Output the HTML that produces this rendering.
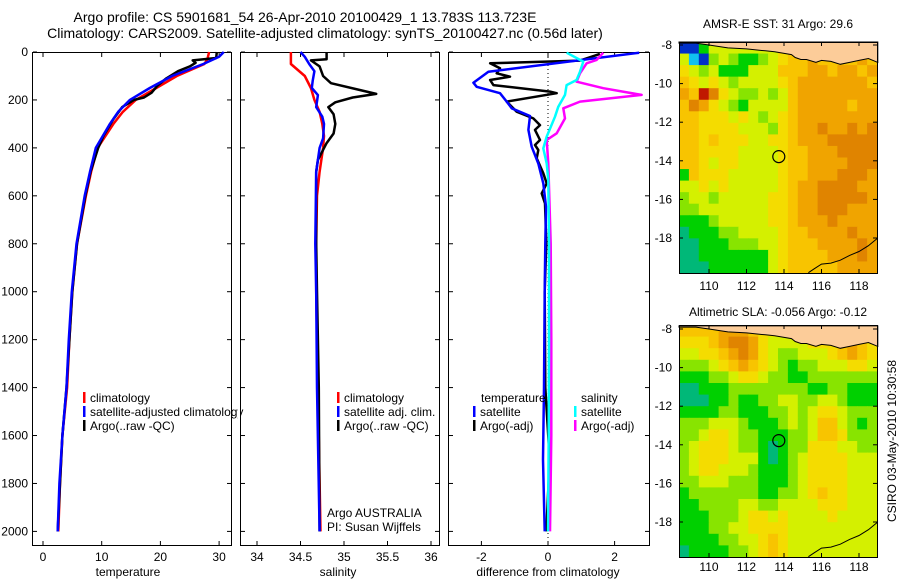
<!DOCTYPE html>
<html><head><meta charset="utf-8"><style>
body{margin:0;background:#fff;}
svg{display:block;font-family:"Liberation Sans",sans-serif;}
</style></head><body>
<svg id="fig" width="900" height="580" viewBox="0 0 900 580">
<text x="305" y="22" font-size="14" text-anchor="middle">Argo profile: CS 5901681_54 26-Apr-2010 20100429_1 13.783S 113.723E</text>
<text x="325" y="38" font-size="14" text-anchor="middle">Climatology: CARS2009. Satellite-adjusted climatology: synTS_20100427.nc (0.56d later)</text>
<text x="778" y="28" font-size="12" text-anchor="middle">AMSR-E SST: 31 Argo: 29.6</text>
<text x="778" y="316" font-size="12" text-anchor="middle">Altimetric SLA: -0.056 Argo: -0.12</text>
<text transform="translate(896,441) rotate(-90)" font-size="12" text-anchor="middle">CSIRO 03-May-2010 10:30:58</text>
<g id="content"></g>
</svg>
<script>
// ---------- profile data ----------
const tempClimDepth=[0,30,50,100,150,200,250,300,400,500,600,800,1000,1200,1400,1600,1800,2000];
const tempClimVal=[28.3,28.0,27.5,22.8,19.3,15.8,13.6,12.0,9.3,8.2,7.3,5.8,5.0,4.5,4.1,3.3,2.9,2.6];
const tempSatDepth=[0,20,50,100,150,200,250,300,400,500,600,800,1000,1200,1400,1600,1800,2000];
const tempSatVal=[30.8,30.0,27.3,22.0,18.2,14.8,12.8,11.4,9.0,8.0,7.1,5.7,4.9,4.4,4.0,3.3,2.8,2.5];
const tempArgoDepth=[0,25,35,45,60,80,110,140,170,190,200,230,280,350,400,500,600,800,1000,1200,1400,1600,1800,2000];
const tempArgoVal=[29.6,29.5,25.5,26.0,25.0,23.0,21.0,19.5,18.5,17.2,15.5,13.5,12.0,10.3,9.4,8.1,7.2,5.8,5.0,4.5,4.0,3.3,2.9,2.5];
const salClimDepth=[0,50,100,150,200,250,300,350,400,500,600,800,1000,1400,2000];
const salClimVal=[34.39,34.39,34.55,34.62,34.66,34.72,34.75,34.77,34.76,34.72,34.69,34.68,34.68,34.70,34.73];
const salSatDepth=[0,20,50,80,120,150,180,230,270,300,360,400,500,800,1000,1400,2000];
const salSatVal=[34.5,34.55,34.6,34.66,34.64,34.63,34.7,34.68,34.75,34.77,34.76,34.72,34.68,34.67,34.68,34.69,34.72];
const salArgoDepth=[0,30,35,60,100,130,160,175,190,210,230,260,300,340,380,450,500,800,1000,1400,2000];
const salArgoVal=[34.8,34.8,34.62,34.72,34.76,34.85,35.2,35.37,35.1,34.9,34.82,34.88,34.9,34.88,34.8,34.7,34.68,34.68,34.69,34.71,34.72];
const dTempSatDepth=[3,82,128,145,172,207,235,267,325,395,465,548,645,800,1000,1400,1700,2000];
const dTempSatVal=[2.74,-1.79,-2.24,-2.14,-1.44,-1.24,-1.09,-0.54,-0.59,-0.49,-0.29,-0.14,-0.06,-0.08,-0.1,-0.12,-0.15,-0.1];
const dTempArgoDepth=[8,36,47,68,89,103,117,138,165,172,207,249,277,305,325,367,388,409,443,506,548,590,631,800,1000,1400,1700,2000];
const dTempArgoVal=[1.56,0.96,-1.74,-1.44,-1.54,-1.14,-1.74,-1.64,0.06,0.26,-1.24,-0.94,-0.44,-0.24,-0.39,-0.24,-0.39,-0.29,-0.34,-0.14,-0.04,-0.19,-0.09,-0.05,-0.1,-0.08,0.05,-0.05];
const dSalSatDepth=[3,40,82,117,138,179,228,270,353,402,465,534,800,1200,1600,2000];
const dSalSatVal=[0.56,1.06,0.96,0.86,0.56,0.51,0.31,0.21,-0.04,-0.14,-0.04,0.01,0.03,0.03,0.02,0.0];
const dSalArgoDepth=[3,33,47,89,124,151,179,207,235,277,339,367,465,800,1200,1600,2000];
const dSalArgoVal=[1.66,1.46,1.16,0.96,0.86,1.66,2.81,0.96,0.46,0.51,0.26,-0.04,0.01,0.08,0.1,0.1,0.06];
const depthTicks=[0,200,400,600,800,1000,1200,1400,1600,1800,2000];
const tempTicks=[0,10,20,30];
const salTicks=[34,34.5,35,35.5,36];
const diffTicks=[-2,0,2];
// ---------- map data (colour class per cell, rows north->south) ----------
const sstGrid=[
[0,0,3,5,5,5,5,5,5,5,7,7,7,7,7,7,7,7,7,7],
[5,1,0,4,5,4,3,3,4,5,6,7,7,8,7,7,7,7,8,7],
[6,5,4,5,3,3,3,5,5,5,7,7,7,8,8,7,8,8,7,8],
[7,6,5,6,5,4,5,5,5,5,6,7,8,8,8,8,8,8,8,7],
[8,7,10,9,6,5,4,4,5,4,5,7,8,8,8,8,8,8,8,8],
[7,9,8,6,5,4,3,5,5,5,5,7,8,8,8,8,8,7,8,8],
[7,7,6,6,6,5,6,5,4,5,6,7,8,8,8,8,8,8,8,8],
[7,7,6,6,6,6,5,5,5,4,6,7,8,8,9,8,8,9,8,9],
[7,7,6,7,6,6,6,5,5,6,6,7,8,8,8,9,9,9,9,9],
[7,7,6,6,6,6,5,5,5,5,6,7,7,8,8,8,9,9,9,9],
[7,7,6,5,6,6,5,5,5,5,6,7,7,8,8,8,8,9,9,9],
[3,7,6,6,6,5,5,5,5,5,6,7,7,8,8,8,9,9,9,8],
[5,5,6,5,6,5,5,5,5,5,6,7,8,8,9,9,9,9,8,8],
[4,5,5,4,5,5,5,5,5,6,6,7,8,8,9,9,9,9,9,8],
[4,4,5,5,5,5,5,5,5,6,6,7,8,8,9,9,9,8,8,8],
[3,3,3,4,5,5,5,5,5,6,6,7,8,8,8,9,8,8,8,8],
[2,3,3,3,4,4,5,5,5,5,6,7,7,8,8,8,8,9,8,8],
[2,2,3,3,3,4,4,4,5,5,6,7,7,7,8,8,8,8,9,8],
[2,2,3,3,3,3,3,3,3,5,6,7,7,7,7,8,8,8,9,8],
[2,2,2,3,3,3,3,3,3,5,6,7,7,7,7,7,8,8,8,8]];
const slaGrid=[
[7,7,7,7,8,8,8,7,6,6,6,6,6,6,6,6,6,6,6,6],
[6,6,6,7,8,9,9,8,6,5,5,5,5,6,6,6,7,8,7,6],
[5,5,6,6,7,8,9,8,6,5,4,4,5,5,5,6,7,8,7,6],
[4,4,4,5,6,7,8,7,6,5,4,3,4,4,5,5,5,6,6,5],
[3,3,3,4,4,5,6,6,5,4,4,3,3,4,4,4,4,4,4,4],
[2,2,3,3,3,4,4,4,4,4,4,4,4,3,3,4,4,3,3,3],
[2,2,2,3,3,4,3,3,4,4,5,5,4,4,5,5,4,3,3,3],
[3,3,3,3,4,4,3,3,3,4,4,5,4,5,6,6,5,4,4,4],
[4,4,4,5,5,5,4,3,3,3,4,5,4,5,7,7,5,4,3,4],
[4,4,5,6,6,5,4,4,3,3,3,4,4,5,7,7,6,4,4,4],
[4,5,6,6,6,5,4,4,3,2,3,4,4,6,6,6,5,5,4,4],
[4,5,6,6,6,5,5,5,3,2,3,4,5,6,6,6,6,5,5,5],
[4,5,6,6,5,5,5,4,3,3,3,4,5,6,6,6,6,5,5,5],
[4,4,5,5,5,4,4,4,3,3,3,4,5,6,6,6,6,5,5,5],
[3,4,4,4,4,4,4,4,3,3,4,4,5,6,7,6,6,5,5,5],
[3,3,4,4,4,4,5,5,4,4,5,5,5,5,6,6,6,5,5,5],
[3,3,3,4,4,4,5,6,6,5,6,5,5,5,5,6,5,5,5,5],
[3,3,3,4,4,5,5,6,6,6,6,5,5,5,5,5,5,5,5,5],
[3,3,3,3,4,4,5,5,6,7,6,5,5,5,5,5,5,5,5,5],
[2,3,3,3,3,4,4,5,6,7,6,5,5,5,5,5,5,5,5,5]];
const lonTicks=[110,112,114,116,118];
const latTicks=[-8,-10,-12,-14,-16,-18];
const argoLon=113.723, argoLat=-13.783;
const landLon=[108.4,119,119,118.5,118,117.5,117,116.5,116,115.7,115.2,114.9,114.6,114.4,113.5,113,112,111,110,109.3,108.4];
const landLat=[-7.84,-7.84,-8.9,-8.7,-8.8,-8.9,-9.0,-8.85,-8.8,-8.9,-8.75,-8.75,-8.65,-8.5,-8.35,-8.3,-8.2,-8.15,-8.0,-7.9,-7.9];
const ausLon=[115.3,115.6,116,116.5,117,117.5,118,118.5,119];
const ausLat=[-19.8,-19.6,-19.35,-19.3,-19.15,-18.9,-18.7,-18.4,-18.0];
const palette=["#0030c8","#10c0f0","#00b878","#00d000","#88e400","#d4f000","#f4dc00","#f8c400","#f0a400","#e08400","#c01800"];

const NS="http://www.w3.org/2000/svg";
const root=document.getElementById('content');
function mk(tag,attrs,parent){const e=document.createElementNS(NS,tag);for(const k in attrs)e.setAttribute(k,attrs[k]);(parent||root).appendChild(e);return e;}
const y0=52, ky=0.2397;
function yD(d){return y0+d*ky;}

function panel(name,left,right,xf,ticks,label,lx){
  const g=mk('g',{});
  
  
  const r=mk('rect',{x:left+0.5,y:52.5,width:right-left,height:493,fill:'none',stroke:'#000','stroke-width':1},g);
  
  
  ticks.forEach(t=>{const x=xf(t);
    mk('line',{x1:x,x2:x,y1:545,y2:541,stroke:'#000'},g);
    mk('line',{x1:x,x2:x,y1:53,y2:57,stroke:'#000'},g);
    const tx=mk('text',{x:x,y:561,'font-size':12,'text-anchor':'middle'},g);tx.textContent=t;
    
    });
  depthTicks.forEach(d=>{const y=yD(d);
    mk('line',{x1:left+1,x2:left+5,y1:y,y2:y,stroke:'#000'},g);
    mk('line',{x1:right,x2:right-4,y1:y,y2:y,stroke:'#000'},g);});
  const lb=mk('text',{x:lx,y:576,'font-size':12,'text-anchor':'middle'},g);lb.textContent=label;
  
  
  return g;
}
function line(g,dep,val,xf,color,w,name){
  const p=dep.map((d,i)=>xf(val[i]).toFixed(1)+','+yD(d).toFixed(1)).join(' ');
  const e=mk('polyline',{points:p,fill:'none',stroke:color,'stroke-width':w,'stroke-linejoin':'round'},g);
  
  
}
function legend(g,x,y,color,text,name){
  mk('rect',{x:x,y:y-10,width:2.5,height:11,fill:color},g);
  const t=mk('text',{x:x+7,y:y,'font-size':12},g);t.textContent=text;
  
  
}
depthTicks.forEach(d=>{const t=mk('text',{x:28,y:yD(d)+4,'font-size':12,'text-anchor':'end'});t.textContent=d;
  
  });

const xT=v=>43+v*5.87;
const gT=panel('temperature-panel',32,231,xT,tempTicks,'temperature',128);
line(gT,tempClimDepth,tempClimVal,xT,'#ff0000',2.5,'temp-climatology-line');
line(gT,tempArgoDepth,tempArgoVal,xT,'#000',2.5,'temp-argo-line');
line(gT,tempSatDepth,tempSatVal,xT,'#0000ff',2.5,'temp-satellite-line');
legend(gT,83,402,'#ff0000','climatology','legend-climatology');
legend(gT,83,416,'#0000ff','satellite-adjusted climatology','legend-satellite-adjusted');
legend(gT,83,430,'#000','Argo(..raw -QC)','legend-argo');
mk('rect',{x:238,y:395,width:2,height:40,fill:'#fff'});

const xS=v=>257+(v-34)*87;
const gS=panel('salinity-panel',240,439,xS,salTicks,'salinity',338);
line(gS,salClimDepth,salClimVal,xS,'#ff0000',2.5,'sal-climatology-line');
line(gS,salArgoDepth,salArgoVal,xS,'#000',2.5,'sal-argo-line');
line(gS,salSatDepth,salSatVal,xS,'#0000ff',2.5,'sal-satellite-line');
legend(gS,337,402,'#ff0000','climatology','legend-sal-climatology');
legend(gS,337,416,'#0000ff','satellite adj. clim.','legend-sal-satellite');
legend(gS,337,430,'#000','Argo(..raw -QC)','legend-sal-argo');
[['Argo AUSTRALIA',517],['PI: Susan Wijffels',531]].forEach(([s,y])=>{const t=mk('text',{x:327,y:y,'font-size':12},gS);t.textContent=s;
  
  });

const xDf=v=>548+v*33.3;
const gD=panel('difference-panel',448,649,xDf,diffTicks,'difference from climatology',548);
mk('line',{x1:548,x2:548,y1:53,y2:545,stroke:'#000','stroke-dasharray':'1,3'},gD);
line(gD,dTempArgoDepth,dTempArgoVal,xDf,'#000',2.5,'diff-temp-argo-line');
line(gD,dTempSatDepth,dTempSatVal,xDf,'#0000ff',2.5,'diff-temp-satellite-line');
line(gD,dSalArgoDepth,dSalArgoVal,xDf,'#ff00ff',2.5,'diff-sal-argo-line');
line(gD,dSalSatDepth,dSalSatVal,xDf,'#00ffff',2.5,'diff-sal-satellite-line');
const tl=mk('text',{x:481,y:402,'font-size':12},gD);tl.textContent='temperature';


const sl=mk('text',{x:581,y:402,'font-size':12},gD);sl.textContent='salinity';


legend(gD,473,416,'#0000ff','satellite','legend-diff-temp-satellite');
legend(gD,473,430,'#000','Argo(-adj)','legend-diff-temp-argo');
legend(gD,574,416,'#00ffff','satellite','legend-diff-sal-satellite');
legend(gD,574,430,'#ff00ff','Argo(-adj)','legend-diff-sal-argo');

function map(name,grid,top,bottom,lat8,lat18,labelY){
  const left=679,right=877;
  const lonX=l=>709+(l-110)*18.75;
  const kLat=(lat18-lat8)/10;
  const latY=l=>lat8+(-8-l)*kLat;
  const g=mk('g',{});
  
  
  const ch=(bottom-top)/grid.length;
  grid.forEach((row,r)=>{const cw=(right-left)/row.length;
    row.forEach((v,c)=>{
      const rc=mk('rect',{x:(left+c*cw).toFixed(2),y:(top+r*ch).toFixed(2),width:(cw+0.6).toFixed(2),height:(ch+0.6).toFixed(2),fill:palette[v]},g);
      
      
    });});
  const lp=landLon.map((l,i)=>lonX(l).toFixed(1)+','+Math.max(top,latY(landLat[i])).toFixed(1)).join(' ');
  const land=mk('polygon',{points:lp,fill:'#fccc99',stroke:'#000','stroke-width':1},g);
  
  
  const ap=ausLon.map((l,i)=>lonX(l).toFixed(1)+','+latY(ausLat[i]).toFixed(1)).join(' ');
  const aus=mk('polyline',{points:ap,fill:'none',stroke:'#000','stroke-width':1},g);
  
  
  const fr=mk('rect',{x:left+0.5,y:top+0.5,width:right-left,height:bottom-top,fill:'none',stroke:'#000'},g);
  
  
  const ci=mk('circle',{cx:lonX(argoLon),cy:latY(argoLat),r:6,fill:'none',stroke:'#000','stroke-width':1.2},g);
  
  
  lonTicks.forEach(l=>{const x=lonX(l);
    mk('line',{x1:x,x2:x,y1:top,y2:top+4,stroke:'#000'},g);
    mk('line',{x1:x,x2:x,y1:bottom,y2:bottom-4,stroke:'#000'},g);
    const t=mk('text',{x:x,y:labelY,'font-size':12,'text-anchor':'middle'},g);t.textContent=l;
    
    });
  latTicks.forEach(l=>{const y=latY(l);
    mk('line',{x1:left,x2:left+4,y1:y,y2:y,stroke:'#000'},g);
    mk('line',{x1:right,x2:right-4,y1:y,y2:y,stroke:'#000'},g);
    const t=mk('text',{x:672,y:y+4,'font-size':12,'text-anchor':'end'},g);t.textContent=l;
    
    });
}
map('sst-map',sstGrid,42,273,45,238,290);
map('sla-map',slaGrid,325,557,329,522,571);
</script>
</body></html>
